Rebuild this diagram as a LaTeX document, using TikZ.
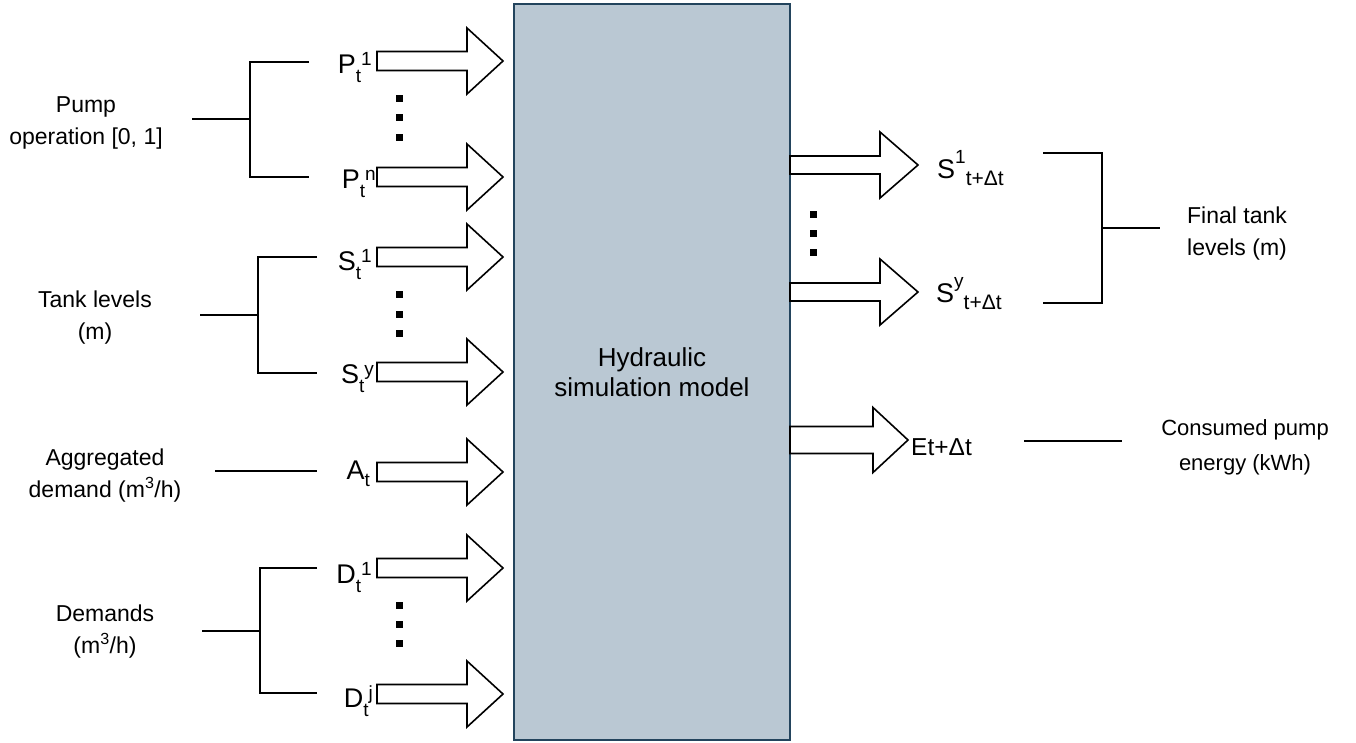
\documentclass[tikz,border=0pt]{standalone}
\usepackage{fontspec}
\setmainfont{Liberation Sans}
\definecolor{boxfill}{HTML}{BAC8D3}
\definecolor{boxline}{HTML}{23445D}
\tikzset{
  barrow/.style={draw=black, line width=1.6, fill=white, line join=miter},
  brk/.style={draw=black, line width=1.6},
  lbl/.style={font=\fontsize{23}{32}\selectfont, align=center, inner sep=0},
  var/.style={font=\fontsize{27}{30}\selectfont, inner sep=0},
  dotsq/.style={fill=black, minimum size=7, inner sep=0, draw=none},
  box/.style={draw=boxline, fill=boxfill, line width=2},
}
% name, tail x, center y, shaft length, shaft half width, head half width, head length
\newcommand\blockarrow[7]{%
  \draw[barrow] (#2,#3-#5) -- ++(#4,0) -- ++(0,#5-#6) -- ++(#7,#6) -- ++(-#7,#6) -- ++(0,#5-#6) -- ++(-#4,0) -- cycle;
  \coordinate (#1) at (#2,#3);}
\newcommand\ls[3]{#1\raisebox{-9pt}{\fontsize{19}{19}\selectfont #2}\raisebox{8pt}{\fontsize{19}{19}\selectfont #3}}
\newcommand\rs[3]{#1\raisebox{15pt}{\fontsize{19}{19}\selectfont #2}\raisebox{-7pt}{\fontsize{21}{21}\selectfont #3}}
\begin{document}
\begin{tikzpicture}[x=1pt,y=-1pt]
\useasboundingbox (0,0) rectangle (1356,742);
% main box
\draw[box] (514,4) rectangle (790,740);
\node[font=\fontsize{26}{30}\selectfont, align=center, inner sep=0] (model) at (652,372) {Hydraulic\\simulation model};
% input arrows
\blockarrow{aP1}{377}{61}{90}{9.5}{33}{36}
\blockarrow{aPn}{377}{177}{90}{9.5}{33}{36}
\blockarrow{aS1}{377}{257}{90}{9.5}{33}{36}
\blockarrow{aSy}{377}{372}{90}{9.5}{33}{36}
\blockarrow{aA}{377}{472}{90}{9.5}{33}{36}
\blockarrow{aD1}{377}{568}{90}{9.5}{33}{36}
\blockarrow{aDj}{377}{694}{90}{9.5}{33}{36}
% output arrows
\blockarrow{oS1}{790}{165}{90}{9}{33}{38}
\blockarrow{oSy}{790}{292}{90}{9}{33}{38}
\blockarrow{oE}{790}{440}{83}{13.5}{32.5}{35}
% variable labels
\node[var, anchor=base east] (lP1) at (372,73) {\ls{P}{t}{1}};
\node[var, anchor=base east] (lPn) at (376,188) {\ls{P}{t}{n}};
\node[var, anchor=base east] (lS1) at (372,270) {\ls{S}{t}{1}};
\node[var, anchor=base east] (lSy) at (374,383) {\ls{S}{t}{y}};
\node[var, anchor=base east] (lA) at (370,479) {A\raisebox{-7pt}{\fontsize{19}{19}\selectfont t}};
\node[var, anchor=base east] (lD1) at (372,583) {\ls{D}{t}{1}};
\node[var, anchor=base east] (lDj) at (373,707) {\ls{D}{t}{j}};
\node[var, anchor=base west] (rS1) at (937,178) {\rs{S}{1}{t+Δt}};
\node[var, anchor=base west] (rSy) at (936,302) {\rs{S}{y}{t+Δt}};
\node[font=\fontsize{24.5}{25}\selectfont, inner sep=0, anchor=base west] (rE) at (911,455) {Et+Δt};
% dots
\foreach \yy in {98,117,137,294,314,333,605,624,643} \node[dotsq] at (399,\yy) {};
\foreach \yy in {214,233,252} \node[dotsq] at (813,\yy) {};
% descriptions
\node[lbl] (tPump) at (86,123) {Pump\\operation [0, 1]};
\node[lbl] (tTank) at (95,318) {Tank levels\\(m)};
\node[lbl] (tAgg) at (105,476) {Aggregated\\demand (m\textsuperscript{3}/h)};
\node[lbl] (tDem) at (105,632) {Demands\\(m\textsuperscript{3}/h)};
\node[lbl] (tFinal) at (1237,234) {Final tank\\levels (m)};
\node[lbl, font=\fontsize{22}{35}\selectfont] (tCons) at (1245,447) {Consumed pump\\energy (kWh)};
% brackets
\coordinate (bP) at (250,119);
\draw[brk] (192,119) -- (bP);
\draw[brk] (309,62) -- (250,62) -- (250,177) -- (309,177);
\draw[brk] (200,315) -- (258,315);
\draw[brk] (317,257) -- (258,257) -- (258,373) -- (317,373);
\draw[brk] (215,471) -- (317,471);
\draw[brk] (202,631) -- (260,631);
\draw[brk] (317,568) -- (260,568) -- (260,693) -- (317,693);
\draw[brk] (1043,153) -- (1102,153) -- (1102,303) -- (1043,303);
\draw[brk] (1102,228) -- (1160,228);
\draw[brk] (1024,441) -- (1122,441);
\end{tikzpicture}
\end{document}
